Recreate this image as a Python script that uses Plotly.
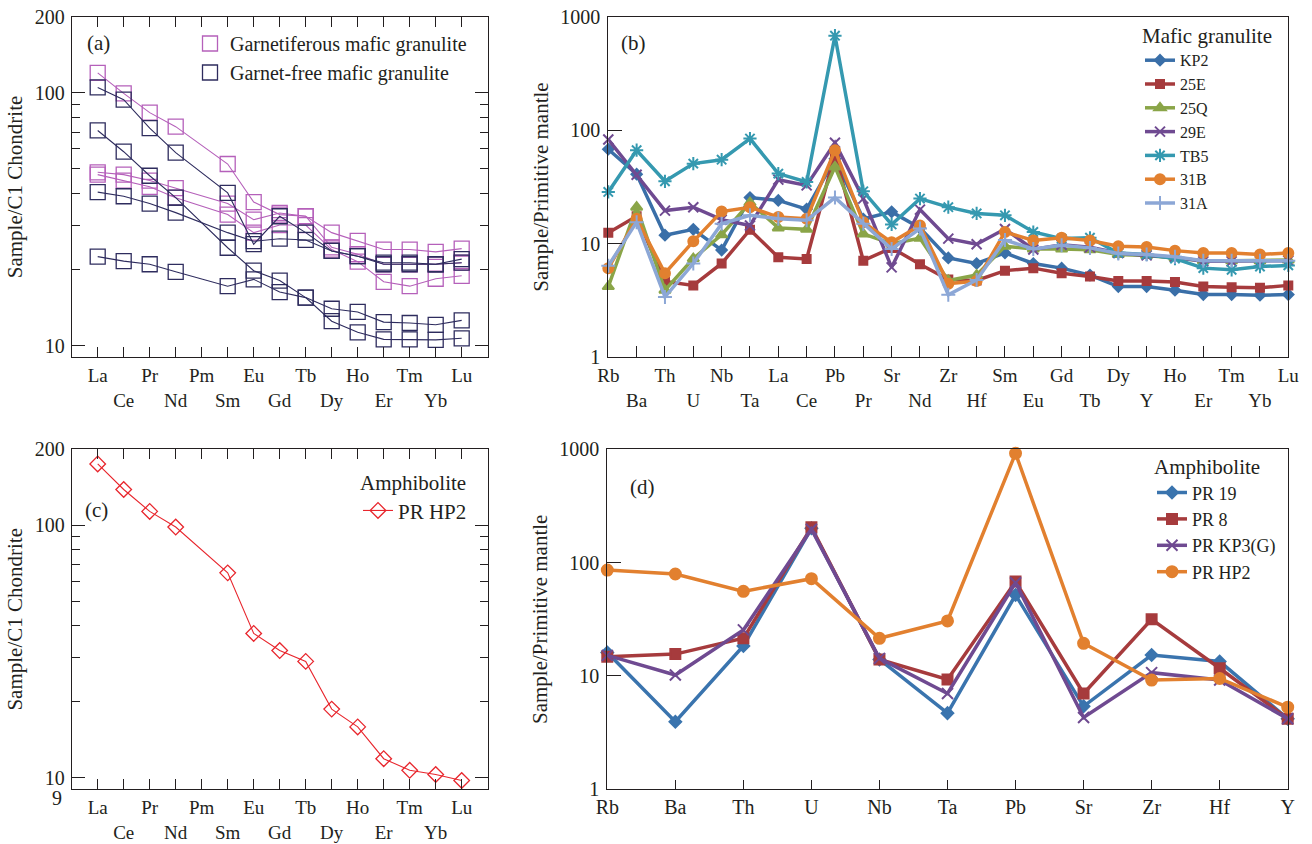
import math
import plotly.graph_objects as go

# ---------------- data ----------------
REE = ["La", "Ce", "Pr", "Nd", "Pm", "Sm", "Eu", "Gd", "Tb", "Dy", "Ho", "Er", "Tm", "Yb", "Lu"]
SPIDER_B = ["Rb", "Ba", "Th", "U", "Nb", "Ta", "La", "Ce", "Pb", "Pr", "Sr", "Nd", "Zr", "Hf",
            "Sm", "Eu", "Gd", "Tb", "Dy", "Y", "Ho", "Er", "Tm", "Yb", "Lu"]
SPIDER_D = ["Rb", "Ba", "Th", "U", "Nb", "Ta", "Pb", "Sr", "Zr", "Hf", "Y"]

# (a) chondrite-normalised REE, mafic granulites (Pm not analysed)
garnetiferous = [
    [120, 99.5, 83.5, 73.5, None, 52.3, 37.0, 33.0, 32.5, 28.0, 26.0, 24.0, 24.0, 23.5, 24.2],
    [48.5, 47.5, 45.0, 42.0, None, 36.5, 31.5, 33.5, 32.5, 24.5, 23.0, 21.0, 21.0, 21.0, 21.3],
    [47.5, 45.0, 42.5, 38.5, None, 33.0, 28.0, 30.0, 30.0, 24.0, 21.5, 17.9, 17.2, 18.4, 18.9],
]
garnet_free = [
    [105, 94, 72.5, 58, None, 40.2, 25.2, 32.5, 28.0, 23.7, 22.6, 21.3, 21.3, 21.0, 22.0],
    [71, 58.5, 47.0, 38.5, None, 24.4, 19.8, 18.1, 15.5, 14.0, 13.6, 12.4, 12.3, 12.1, 12.6],
    [40.5, 39.0, 36.5, 33.6, None, 28.0, 25.9, 26.5, 26.2, 23.7, 22.6, 21.0, 21.0, 21.0, 21.3],
    [22.5, 21.6, 21.0, 19.6, None, 17.2, 18.3, 16.3, 15.5, 12.5, 11.3, 10.6, 10.6, 10.55, 10.7],
]

# (b) primitive-mantle normalised, mafic granulites
b_names = ["KP2", "25E", "25Q", "29E", "TB5", "31B", "31A"]
kp2 = [68, 41, 11.9, 13.4, 8.8, 25.5, 24.1, 20.2, 56, 16.5, 19.1, 13.8, 7.5, 6.7, 8.3, 6.7, 6.1, 5.3, 4.2, 4.2, 3.9, 3.57, 3.57, 3.52, 3.57]
s25e = [12.5, 17.5, 4.65, 4.3, 6.7, 13.3, 7.6, 7.35, 62, 7.1, 9.2, 6.6, 4.85, 4.75, 5.8, 6.1, 5.5, 5.15, 4.7, 4.7, 4.6, 4.2, 4.15, 4.1, 4.3]
s25q = [4.2, 21, 3.9, 7.4, 12.0, 23, 13.8, 13.4, 47.5, 12.2, 10.0, 11.2, 4.75, 5.3, 9.5, 9.0, 9.0, 8.85, 8.05, 7.9, 7.5, 7.1, 7.1, 7.1, 7.2]
s29e = [82.8, 40.6, 19.6, 21, 16.3, 14.5, 36.7, 32.7, 77.5, 25, 6.2, 20, 11.1, 9.9, 13.5, 8.9, 9.8, 9.3, 8.3, 7.9, 7.6, 7.0, 7.0, 7.0, 7.1]
tb5 = [28.6, 66.7, 35.5, 50.8, 55, 84.5, 41.5, 35, 680, 29, 14.8, 25, 21, 18.5, 17.8, 12.7, 11.1, 11.3, 8.3, 8.05, 7.4, 6.1, 5.9, 6.3, 6.45]
s31b = [6.1, 16.6, 5.5, 10.5, 19.2, 21, 17.2, 16.6, 66.7, 15.5, 10.3, 14.5, 4.45, 4.7, 12.7, 10.7, 11.3, 10.7, 9.5, 9.35, 8.7, 8.3, 8.3, 8.05, 8.3]
s31a = [6.4, 15.5, 3.4, 6.7, 15.0, 17.8, 16.6, 16.1, 25.5, 15.0, 9.0, 13.6, 3.55, 4.8, 10.8, 9.0, 9.7, 9.2, 8.2, 8.05, 7.7, 7.1, 7.1, 7.1, 7.1]

# (c) chondrite-normalised REE, amphibolite PR HP2
hp2_ree = [175, 138.6, 113.5, 98.4, None, 64.8, 37.3, 31.9, 28.9, 18.7, 15.9, 11.9, 10.7, 10.3, 9.75]

# (d) primitive-mantle normalised, amphibolites
d_names = ["PR 19", "PR 8", "PR KP3(G)", "PR HP2"]
pr19 = [16.1, 3.95, 18.4, 201, 14.0, 4.7, 51.8, 5.4, 15.3, 13.4, 4.2]
pr8 = [14.8, 15.6, 21.5, 205, 14.0, 9.3, 68, 7.0, 31.6, 11.7, 4.2]
kp3g = [15.2, 10.2, 25.5, 197, 14.3, 7.0, 66.5, 4.3, 10.7, 9.2, 4.2]
hp2_pm = [86, 79.4, 55.8, 72.2, 21.5, 30.6, 921, 19.4, 9.2, 9.5, 5.3]

# ---------------- styles ----------------
FONT = "Liberation Serif"
INK = "#231f20"
MAG = "#b560ba"
NAVY = "#2e2c5e"
RED_C = "#e8262d"

b_styles = [
    ("#3a6fa8", "diamond", 8),
    ("#a63b3d", "square", 8),
    ("#8aa548", "triangle-up", 10),
    ("#6f4a91", "x-thin-open", 10),
    ("#3599b0", "asterisk-open", 11),
    ("#e2802f", "circle", 10),
    ("#8ca7d6", "cross-thin-open", 10),
]
d_styles = [
    ("#3a74ae", "diamond", 9),
    ("#a63b3d", "square", 10),
    ("#6f4a91", "x-thin-open", 11),
    ("#e2802f", "circle", 11),
]


def two_row(labels):
    return [lab if i % 2 == 0 else "<br>" + lab for i, lab in enumerate(labels)]


fig = go.Figure()

# ---- (a)
for ys in garnetiferous:
    fig.add_trace(go.Scatter(x=REE, y=ys, mode="lines+markers", connectgaps=True,
                             line=dict(color=MAG, width=1.1),
                             marker=dict(symbol="square-open", size=15, color=MAG, line=dict(width=1.3, color=MAG)),
                             showlegend=False, xaxis="x", yaxis="y", cliponaxis=False))
for ys in garnet_free:
    fig.add_trace(go.Scatter(x=REE, y=ys, mode="lines+markers", connectgaps=True,
                             line=dict(color=NAVY, width=1.1),
                             marker=dict(symbol="square-open", size=15, color=NAVY, line=dict(width=1.3, color=NAVY)),
                             showlegend=False, xaxis="x", yaxis="y", cliponaxis=False))
for name, col in [("Garnetiferous mafic granulite", MAG), ("Garnet-free mafic granulite", NAVY)]:
    fig.add_trace(go.Scatter(x=[None], y=[None], mode="markers", name=name,
                             marker=dict(symbol="square-open", size=15, color=col, line=dict(width=1.3, color=col)),
                             xaxis="x", yaxis="y", legend="legend"))

# ---- (b)
for name, ys, (col, sym, sz) in zip(b_names, [kp2, s25e, s25q, s29e, tb5, s31b, s31a], b_styles):
    fig.add_trace(go.Scatter(x=SPIDER_B, y=ys, mode="lines+markers", name=name,
                             line=dict(color=col, width=3.5),
                             marker=dict(symbol=sym, size=sz, color=col, line=dict(width=2, color=col)),
                             xaxis="x2", yaxis="y2", legend="legend2", cliponaxis=False))

# ---- (c)
fig.add_trace(go.Scatter(x=REE, y=hp2_ree, mode="lines+markers", connectgaps=True, name="PR HP2",
                         line=dict(color=RED_C, width=1.1),
                         marker=dict(symbol="diamond-open", size=12, color=RED_C, line=dict(width=1.3, color=RED_C)),
                         xaxis="x3", yaxis="y3", legend="legend3", cliponaxis=False))

# ---- (d)
for name, ys, (col, sym, sz) in zip(d_names, [pr19, pr8, kp3g, hp2_pm], d_styles):
    fig.add_trace(go.Scatter(x=SPIDER_D, y=ys, mode="lines+markers", name=name,
                             line=dict(color=col, width=3.5),
                             marker=dict(symbol=sym, size=sz, color=col, line=dict(width=2, color=col)),
                             xaxis="x4", yaxis="y4", legend="legend4", cliponaxis=False))

W, H = 1312, 844
def px_x(v):
    return v / W
def px_y(v):
    return 1 - v / H

tickfont = dict(family=FONT, size=20, color=INK)
xtickfont = dict(family=FONT, size=19, color=INK)
titlefont = dict(family=FONT, size=21, color=INK)

ree_x = dict(type="category", categoryorder="array", categoryarray=REE, range=[-1, 15],
             tickmode="array", tickvals=REE, ticktext=two_row(REE), tickfont=xtickfont, tickangle=0,
             ticks="inside", ticklen=10, tickcolor=INK, showline=True, linecolor=INK, linewidth=1,
             mirror="ticks", showgrid=False, zeroline=False, ticklabelstandoff=1, automargin=False)

def ree_y(tv, domain):
    return dict(type="log", range=[math.log10(9), math.log10(200)], domain=domain,
                tickmode="array", tickvals=tv, ticktext=[str(v) for v in tv], tickfont=tickfont,
                ticks="inside", ticklen=13, tickcolor=INK, showline=True, linecolor=INK, linewidth=1,
                mirror="ticks", showgrid=False, zeroline=False, automargin=False, ticklabelstandoff=2,
                minor=dict(tickmode="array", tickvals=[20, 30, 40, 50, 60, 70, 80, 90], ticks="inside",
                           ticklen=8, tickcolor=INK, showgrid=False),
                title=dict(text="Sample/C1 Chondrite", font=titlefont, standoff=6))

def pm_y(domain):
    return dict(type="log", range=[0, 3], domain=domain,
                tickmode="array", tickvals=[1, 10, 100, 1000], ticktext=["1", "10", "100", "1000"],
                tickfont=tickfont, ticks="inside", ticklen=14, tickcolor=INK, automargin=False,
                showline=True, linecolor=INK, linewidth=1, mirror=True, showgrid=False, zeroline=False,
                ticklabelstandoff=3,
                title=dict(text="Sample/Primitive mantle", font=titlefont, standoff=5))

dom_a_x = [px_x(71.7), px_x(487.7)]
dom_b_x = [px_x(608.3), px_x(1288.3)]
dom_d_x = [px_x(607.3), px_x(1287.7)]
dom_top = [px_y(357.3), px_y(16.7)]
dom_bot = [px_y(789.3), px_y(449.3)]

xa = dict(ree_x, domain=dom_a_x, anchor="y")
xc = dict(ree_x, domain=dom_a_x, anchor="y3")
xb = dict(type="category", categoryorder="array", categoryarray=SPIDER_B, range=[0, 24], domain=dom_b_x,
          anchor="y2", tickmode="array", tickvals=SPIDER_B, ticktext=two_row(SPIDER_B), tickfont=xtickfont,
          tickangle=0, ticks="inside", ticklen=11, tickcolor=INK, showline=True, linecolor=INK, linewidth=1,
          mirror=True, showgrid=False, zeroline=False, ticklabelstandoff=1, automargin=False)
xd = dict(type="category", categoryorder="array", categoryarray=SPIDER_D, range=[0, 10], domain=dom_d_x,
          anchor="y4", tickmode="array", tickvals=SPIDER_D, ticktext=SPIDER_D,
          tickfont=dict(family=FONT, size=20, color=INK), tickangle=0,
          ticks="inside", ticklen=9, tickcolor=INK, showline=True, linecolor=INK, linewidth=1,
          mirror=True, showgrid=False, zeroline=False, ticklabelstandoff=0, automargin=False)

legfont = dict(family=FONT, size=20, color=INK)

fig.update_layout(
    width=W, height=H, margin=dict(l=0, r=0, t=0, b=0, autoexpand=False),
    paper_bgcolor="white", plot_bgcolor="white",
    font=dict(family=FONT, color=INK),
    xaxis=xa, yaxis=dict(ree_y([10, 100, 200], dom_top), anchor="x"),
    xaxis2=xb, yaxis2=dict(pm_y(dom_top), anchor="x2"),
    xaxis3=xc, yaxis3=dict(ree_y([10, 100, 200], dom_bot), anchor="x3"),
    xaxis4=xd, yaxis4=dict(pm_y(dom_bot), anchor="x4"),
    legend=dict(x=px_x(190), y=px_y(24), xanchor="left", yanchor="top", font=legfont,
                bgcolor="rgba(0,0,0,0)", tracegroupgap=0),
    legend2=dict(x=px_x(1140), y=px_y(16), xanchor="left", yanchor="top",
                 font=dict(family=FONT, size=16, color=INK),
                 title=dict(text="Mafic granulite", font=dict(family=FONT, size=21, color=INK)),
                 bgcolor="rgba(0,0,0,0)"),
    legend3=dict(x=px_x(358), y=px_y(463), xanchor="left", yanchor="top",
                 font=dict(family=FONT, size=21, color=INK),
                 title=dict(text="Amphibolite", font=dict(family=FONT, size=21, color=INK)),
                 bgcolor="rgba(0,0,0,0)"),
    legend4=dict(x=px_x(1152), y=px_y(447), xanchor="left", yanchor="top",
                 font=dict(family=FONT, size=18, color=INK),
                 title=dict(text="Amphibolite", font=dict(family=FONT, size=21, color=INK)),
                 bgcolor="rgba(0,0,0,0)"),
)

for txt, x, y in [("(a)", 85, 43), ("(b)", 619, 43), ("(c)", 83, 510), ("(d)", 628, 487)]:
    fig.add_annotation(text=txt, x=px_x(x), y=px_y(y), xref="paper", yref="paper",
                       xanchor="left", yanchor="middle", showarrow=False,
                       font=dict(family=FONT, size=21, color=INK))

# bottom-of-axis label "9" of panel (c), set just below the "10" label as in the original
fig.add_annotation(text="9", x=px_x(64), y=px_y(798), xref="paper", yref="paper",
                   xanchor="right", yanchor="middle", showarrow=False,
                   font=dict(family=FONT, size=20, color=INK))

# remove the browser's default 8px body margin so the figure fills the window exactly
fig.write_html("out.html", config={"displayModeBar": False},
               post_script="document.body.style.margin='0';document.body.style.overflow='hidden';")
